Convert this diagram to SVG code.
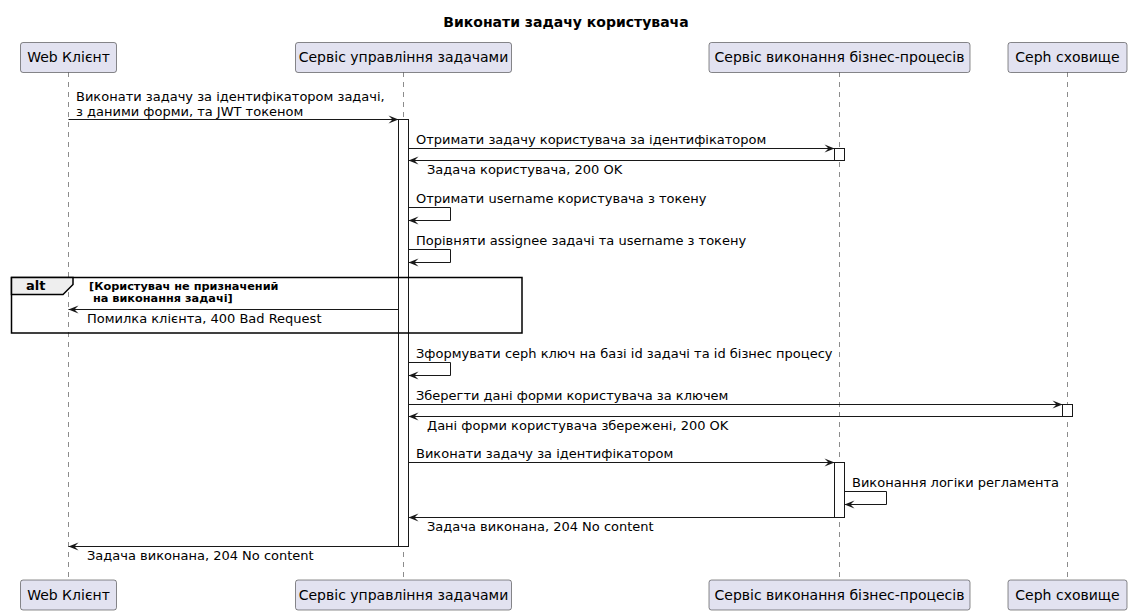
<svg xmlns="http://www.w3.org/2000/svg" width="1132" height="615" viewBox="0 0 1132 615">
<style>
text{font-family:"DejaVu Sans","Noto Sans",sans-serif;fill:#000}
.title{font-size:14px;font-weight:bold}
.pt{font-size:14px}
.m{font-size:13px}
.cond{font-size:11.3px;font-weight:bold}
.altl{font-size:13px;font-weight:bold}
.pbox{fill:#E2E2F0;stroke:#181818;stroke-width:0.5}
.life{stroke:#181818;stroke-width:0.5;stroke-dasharray:5,5;fill:none}
.act{fill:#FFFFFF;stroke:#181818;stroke-width:1}
.msg{stroke:#181818;stroke-width:1;fill:none;marker-end:url(#ah)}
</style>
<defs>
<marker id="ah" markerUnits="userSpaceOnUse" markerWidth="10" markerHeight="8" refX="10" refY="4" orient="auto" overflow="visible">
<path d="M0,0 L10,4 L0,8 L4,4 Z" fill="#181818"/>
</marker>
</defs>
<rect width="1132" height="615" fill="#FFFFFF"/>
<text class="title" x="566" y="27" text-anchor="middle">Виконати задачу користувача</text>
<g id="lifelines">
<line class="life" x1="68.5" y1="72" x2="68.5" y2="580"/>
<line class="life" x1="403.5" y1="72" x2="403.5" y2="580"/>
<line class="life" x1="839.5" y1="72" x2="839.5" y2="580"/>
<line class="life" x1="1067.5" y1="72" x2="1067.5" y2="580"/>
</g>
<g id="p-web">
<rect class="pbox" x="20.5" y="42.5" width="96" height="30" rx="2.5"/>
<text class="pt" x="68.5" y="62" text-anchor="middle">Web Клієнт</text>
<rect class="pbox" x="20.5" y="580" width="96" height="30" rx="2.5"/>
<text class="pt" x="68.5" y="599.5" text-anchor="middle">Web Клієнт</text>
</g>
<g id="p-tasks">
<rect class="pbox" x="295.5" y="42.5" width="216" height="30" rx="2.5"/>
<text class="pt" x="403.5" y="62" text-anchor="middle">Сервіс управління задачами</text>
<rect class="pbox" x="295.5" y="580" width="216" height="30" rx="2.5"/>
<text class="pt" x="403.5" y="599.5" text-anchor="middle">Сервіс управління задачами</text>
</g>
<g id="p-bpms">
<rect class="pbox" x="709" y="42.5" width="261" height="30" rx="2.5"/>
<text class="pt" x="839.5" y="62" text-anchor="middle">Сервіс виконання бізнес-процесів</text>
<rect class="pbox" x="709" y="580" width="261" height="30" rx="2.5"/>
<text class="pt" x="839.5" y="599.5" text-anchor="middle">Сервіс виконання бізнес-процесів</text>
</g>
<g id="p-ceph">
<rect class="pbox" x="1008" y="42.5" width="119" height="30" rx="2.5"/>
<text class="pt" x="1067.5" y="62" text-anchor="middle">Ceph сховище</text>
<rect class="pbox" x="1008" y="580" width="119" height="30" rx="2.5"/>
<text class="pt" x="1067.5" y="599.5" text-anchor="middle">Ceph сховище</text>
</g>
<g id="activations">
<rect class="act" x="398.5" y="119.5" width="10" height="427"/>
<rect class="act" x="834.5" y="148.5" width="10" height="12"/>
<rect class="act" x="1062.5" y="404.5" width="10" height="12"/>
<rect class="act" x="834.5" y="462.5" width="10" height="55"/>
</g>
<g id="alt">
<rect x="11.5" y="277.5" width="510.5" height="55.5" fill="none" stroke="#000" stroke-width="1.5"/>
<path d="M11.5,277.5 L73,277.5 L73,284.5 L63,294.5 L11.5,294.5 Z" fill="#EEEEEE" stroke="#000" stroke-width="1.5"/>
<text class="altl" x="26" y="290">alt</text>
<text class="cond" x="89" y="290">[Користувач не призначений</text>
<text class="cond" x="89" y="302" xml:space="preserve"> на виконання задачі]</text>
</g>
<g id="connectors">
<line class="msg" x1="68.5" y1="119.5" x2="398.5" y2="119.5"/>
<text class="m" x="76" y="100.5">Виконати задачу за ідентифікатором задачі,</text>
<text class="m" x="76" y="115.5">з даними форми, та JWT токеном</text>

<line class="msg" x1="408.5" y1="148.5" x2="834.5" y2="148.5"/>
<text class="m" x="416" y="144">Отримати задачу користувача за ідентифікатором</text>

<line class="msg" x1="834.5" y1="160.5" x2="408.5" y2="160.5"/>
<text class="m" x="427" y="173.5">Задача користувача, 200 OK</text>

<polyline class="msg" points="408.5,207.5 450.5,207.5 450.5,220.5 408.5,220.5"/>
<text class="m" x="416" y="203">Отримати username користувача з токену</text>

<polyline class="msg" points="408.5,249.5 450.5,249.5 450.5,262.5 408.5,262.5"/>
<text class="m" x="416" y="245">Порівняти assignee задачі та username з токену</text>

<line class="msg" x1="398.5" y1="309.5" x2="68.5" y2="309.5"/>
<text class="m" x="87" y="322.5">Помилка клієнта, 400 Bad Request</text>

<polyline class="msg" points="408.5,362.5 450.5,362.5 450.5,375.5 408.5,375.5"/>
<text class="m" x="416" y="358">Зформувати ceph ключ на базі id задачі та id бізнес процесу</text>

<line class="msg" x1="408.5" y1="404.5" x2="1062.5" y2="404.5"/>
<text class="m" x="416" y="400">Зберегти дані форми користувача за ключем</text>

<line class="msg" x1="1062.5" y1="416.5" x2="408.5" y2="416.5"/>
<text class="m" x="427" y="429.5">Дані форми користувача збережені, 200 OK</text>

<line class="msg" x1="408.5" y1="462.5" x2="834.5" y2="462.5"/>
<text class="m" x="416" y="458">Виконати задачу за ідентифікатором</text>

<polyline class="msg" points="844.5,491.5 886.5,491.5 886.5,504.5 844.5,504.5"/>
<text class="m" x="852" y="487">Виконання логіки регламента</text>

<line class="msg" x1="834.5" y1="517.5" x2="408.5" y2="517.5"/>
<text class="m" x="427" y="530.5">Задача виконана, 204 No content</text>

<line class="msg" x1="398.5" y1="546.5" x2="68.5" y2="546.5"/>
<text class="m" x="87" y="559.5">Задача виконана, 204 No content</text>
</g>
</svg>
